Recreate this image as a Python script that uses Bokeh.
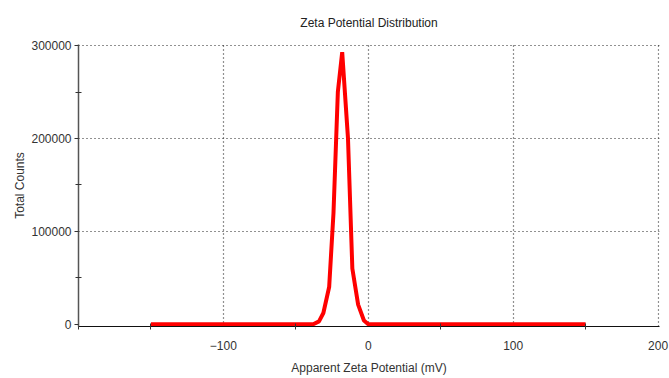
from bokeh.plotting import figure
from bokeh.models import FixedTicker, BasicTickFormatter, Title
from bokeh.embed import file_html
from bokeh.resources import INLINE

# Data
zeta_mv = [-150, -38, -34, -31, -27, -24, -21, -18, -14, -11, -7, -3, 0, 150]
counts = [0, 0, 3000, 12000, 40000, 120000, 250000, 293000, 200000, 60000, 21000, 4000, 0, 0]
x_ticks = [-100, 0, 100, 200]
x_minor = [-200, -150, -50, 50, 150]
y_ticks = [0, 100000, 200000, 300000]
y_minor = [50000, 150000, 250000]
y_grid = [100000, 200000, 300000]
title_text = "Zeta Potential Distribution"

FONT = "Liberation Sans"

p = figure(width=669, height=378, x_range=(-200, 201), y_range=(-2500, 301200),
           output_backend="svg", toolbar_location=None,
           min_border_left=78, min_border_right=10, min_border_top=44, min_border_bottom=52)
p.title = None
p.outline_line_color = None
p.background_fill_color = "white"

p.add_layout(Title(text=title_text, align="center", vertical_align="top", text_font=FONT,
                   text_font_size="12px", text_font_style="normal", text_color="#222222",
                   offset=0, standoff=26), "above")

p.line(zeta_mv, counts, line_color="#ff0000", line_width=4)

# axes
p.xaxis.ticker = FixedTicker(ticks=x_ticks, minor_ticks=x_minor)
p.yaxis.ticker = FixedTicker(ticks=y_ticks, minor_ticks=y_minor)
p.yaxis.formatter = BasicTickFormatter(use_scientific=False)
bottom = p.below[0]
left = p.left[0]
for ax in (bottom, left):
    ax.major_label_text_font = FONT
    ax.major_label_text_font_size = "12px"
    ax.major_label_text_color = "#333333"
    ax.axis_label_text_font = FONT
    ax.axis_label_text_font_size = "12px"
    ax.axis_label_text_font_style = "normal"
    ax.axis_label_text_color = "#333333"
    ax.major_tick_line_color = "#333333"
    ax.minor_tick_line_color = "#333333"
    ax.major_tick_in = 0
    ax.major_tick_out = 4
    ax.minor_tick_in = 3
    ax.minor_tick_out = 3

bottom.axis_label = "Apparent Zeta Potential (mV)"
left.axis_label = "Total Counts"
bottom.axis_line_color = "#111111"
bottom.axis_line_width = 1.2
bottom.major_tick_line_color = None
bottom.major_label_standoff = 10
bottom.axis_label_standoff = 8
left.axis_line_color = "#555555"
left.axis_line_width = 1.5
left.major_label_standoff = 3
left.axis_label_standoff = 1

p.xgrid.ticker = FixedTicker(ticks=x_ticks)
p.ygrid.ticker = FixedTicker(ticks=y_grid)
for g in (p.xgrid[0], p.ygrid[0]):
    g.grid_line_color = "#222222"
    g.grid_line_dash = "1 3"
    g.grid_line_width = 1.2

open("out.html", "w").write(file_html(p, INLINE))
